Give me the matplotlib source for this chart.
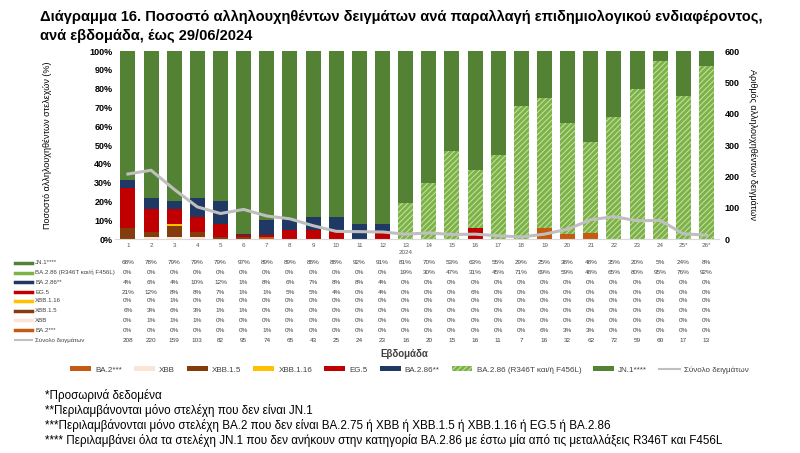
import numpy as np
import matplotlib
matplotlib.use('Agg')
import matplotlib.pyplot as plt
from matplotlib.lines import Line2D
from matplotlib.patches import Patch
from matplotlib.transforms import blended_transform_factory
from matplotlib.ticker import PercentFormatter

plt.rcParams['font.family'] = ['Liberation Sans', 'DejaVu Sans']
plt.rcParams['hatch.linewidth'] = 0.7

weeks = [str(i) for i in range(1, 25)] + ['25*', '26*']

# percentages per week (as shown in the table under the chart)
jn1 = [68, 78, 79, 79, 79, 97, 89, 89, 88, 88, 92, 91, 81, 70, 53, 63, 55, 29, 25, 38, 48, 35, 20, 5, 24, 8]
ba286_r346t = [0, 0, 0, 0, 0, 0, 0, 0, 0, 0, 0, 0, 19, 30, 47, 31, 45, 71, 69, 59, 48, 65, 80, 95, 76, 92]
ba286 = [4, 6, 4, 10, 12, 1, 8, 6, 7, 8, 8, 4, 0, 0, 0, 0, 0, 0, 0, 0, 0, 0, 0, 0, 0, 0]
eg5 = [21, 12, 8, 8, 7, 1, 1, 5, 5, 4, 0, 4, 0, 0, 0, 6, 0, 0, 0, 0, 0, 0, 0, 0, 0, 0]
xbb1116 = [0, 0, 1, 0, 0, 0, 0, 0, 0, 0, 0, 0, 0, 0, 0, 0, 0, 0, 0, 0, 0, 0, 0, 0, 0, 0]
xbb15 = [6, 3, 6, 3, 1, 1, 0, 0, 0, 0, 0, 0, 0, 0, 0, 0, 0, 0, 0, 0, 0, 0, 0, 0, 0, 0]
xbb = [0, 1, 1, 1, 0, 0, 0, 0, 0, 0, 0, 0, 0, 0, 0, 0, 0, 0, 0, 0, 0, 0, 0, 0, 0, 0]
ba2 = [0, 0, 0, 0, 0, 0, 1, 0, 0, 0, 0, 0, 0, 0, 0, 0, 0, 0, 6, 3, 3, 0, 0, 0, 0, 0]
total = [208, 220, 159, 103, 82, 95, 74, 65, 43, 25, 24, 23, 16, 20, 15, 16, 11, 7, 16, 32, 62, 72, 59, 60, 17, 13]

# stacking order, bottom -> top
series = [
    ('BA.2***', ba2, '#c55a11', None),
    ('XBB', xbb, '#fbe5d6', None),
    ('XBB.1.5', xbb15, '#843c0c', None),
    ('XBB.1.16', xbb1116, '#ffc000', None),
    ('EG.5', eg5, '#c00000', None),
    ('BA.2.86**', ba286, '#1f3864', None),
    ('BA.2.86 (R346T και/ή F456L)', ba286_r346t, '#7db247', '//////'),
    ('JN.1****', jn1, '#548235', None),
]
line_color = '#bfbfbf'

fig = plt.figure(figsize=(8, 4.53), dpi=100)
ax = fig.add_axes([0.144, 0.472, 0.755, 0.415])
ax2 = ax.twinx()

x = np.arange(len(weeks))
col_sum = np.sum([s[1] for s in series], axis=0)
bottom = np.zeros(len(weeks))
for name, vals, col, hatch in series:
    v = np.array(vals) / col_sum
    if hatch:
        ax.bar(x, v, 0.65, bottom=bottom, color=col, edgecolor='#c8e2ab',
               hatch=hatch, linewidth=0)
    else:
        ax.bar(x, v, 0.65, bottom=bottom, color=col, linewidth=0)
    bottom += v

ax2.plot(x, total, color=line_color, lw=2.2)

ax.set_xlim(-0.55, len(weeks) - 0.45)
ax.set_ylim(0, 1)
ax.set_yticks(np.linspace(0, 1, 11))
ax.yaxis.set_major_formatter(PercentFormatter(1.0, decimals=0))
ax2.set_ylim(0, 600)
ax2.set_yticks(range(0, 601, 100))
ax.set_xticks(x)
ax.set_xticklabels(weeks, fontsize=4.5, color='#595959')
for a in (ax, ax2):
    for s in a.spines.values():
        s.set_visible(False)
ax.spines['bottom'].set_visible(True)
ax.spines['bottom'].set_color('#d9d9d9')
ax.tick_params(axis='x', length=0, pad=3)
ax.tick_params(axis='y', length=0, labelsize=6.5, pad=2)
ax2.tick_params(axis='y', length=0, labelsize=6.5, pad=4)
for lab in ax.get_yticklabels() + ax2.get_yticklabels():
    lab.set_fontweight('bold')

fig.text(0.06, 0.68, 'Ποσοστό αλληλουχηθέντων στελεχών (%)', rotation=90,
         ha='center', va='center', fontsize=6.5)
fig.text(0.94, 0.68, 'Αριθμός αλληλουχηθέντων δειγμάτων', rotation=270,
         ha='center', va='center', fontsize=6.5)

# title
fig.text(0.05, 0.978, 'Διάγραμμα 16. Ποσοστό αλληλουχηθέντων δειγμάτων ανά παραλλαγή '
         'επιδημιολογικού ενδιαφέροντος,\nανά εβδομάδα, έως 29/06/2024',
         ha='left', va='top', fontsize=10.5, fontweight='bold', linespacing=1.45)

# data table under the chart
tr = blended_transform_factory(ax.transData, fig.transFigure)
fig.text(x[12], 1 - 253 / 453, '2024', transform=tr, ha='center', va='center',
         fontsize=4.5, color='#595959')
rows = list(reversed(series))
row_y = [263, 272.5, 282, 292, 301, 310.5, 320, 330, 340]
for i, (name, vals, col, hatch) in enumerate(rows):
    yf = 1 - row_y[i] / 453
    fig.add_artist(Line2D([15 / 800, 32 / 800], [yf, yf], color=col, lw=2.5))
    fig.text(35 / 800, yf, name, ha='left', va='center', fontsize=4.4, color='#404040')
    for xi, v in zip(x, vals):
        fig.text(xi, yf, f'{v}%', transform=tr, ha='center', va='center',
                 fontsize=4.6, color='#404040')
yf = 1 - row_y[-1] / 453
fig.add_artist(Line2D([15 / 800, 32 / 800], [yf, yf], color=line_color, lw=1.5))
fig.text(35 / 800, yf, 'Σύνολο δειγμάτων', ha='left', va='center', fontsize=4.4, color='#404040')
for xi, v in zip(x, total):
    fig.text(xi, yf, str(v), transform=tr, ha='center', va='center',
             fontsize=4.6, color='#404040')

fig.text(0.506, 1 - 354 / 453, 'Εβδομάδα', ha='center', va='center',
         fontsize=7, fontweight='bold', color='#404040')

handles = []
for name, vals, col, hatch in series:
    if hatch:
        handles.append(Patch(facecolor=col, edgecolor='#c8e2ab', hatch=hatch, lw=0, label=name))
    else:
        handles.append(Patch(facecolor=col, lw=0, label=name))
handles.append(Line2D([], [], color=line_color, lw=1.5, label='Σύνολο δειγμάτων'))
fig.legend(handles=handles, loc='center', bbox_to_anchor=(0.512, 1 - 370 / 453),
           ncol=9, frameon=False, fontsize=5.8, handlelength=2.6, handleheight=0.6,
           columnspacing=1.5, handletextpad=0.5, labelcolor='#404040')

notes = [
    '*Προσωρινά δεδομένα',
    '**Περιλαμβάνονται μόνο στελέχη που δεν είναι JN.1',
    '***Περιλαμβάνονται μόνο στελέχη BA.2 που δεν είναι BA.2.75 ή XBB ή XBB.1.5 ή XBB.1.16 ή EG.5 ή BA.2.86',
    '**** Περιλαμβάνει όλα τα στελέχη JN.1 που δεν ανήκουν στην κατηγορία BA.2.86 με έστω μία από τις μεταλλάξεις R346T και F456L',
]
for i, t in enumerate(notes):
    fig.text(45 / 800, 1 - (395 + 15.3 * i) / 453, t, ha='left', va='center',
             fontsize=8.4, color='black')

fig.savefig('out.png', dpi=100)
